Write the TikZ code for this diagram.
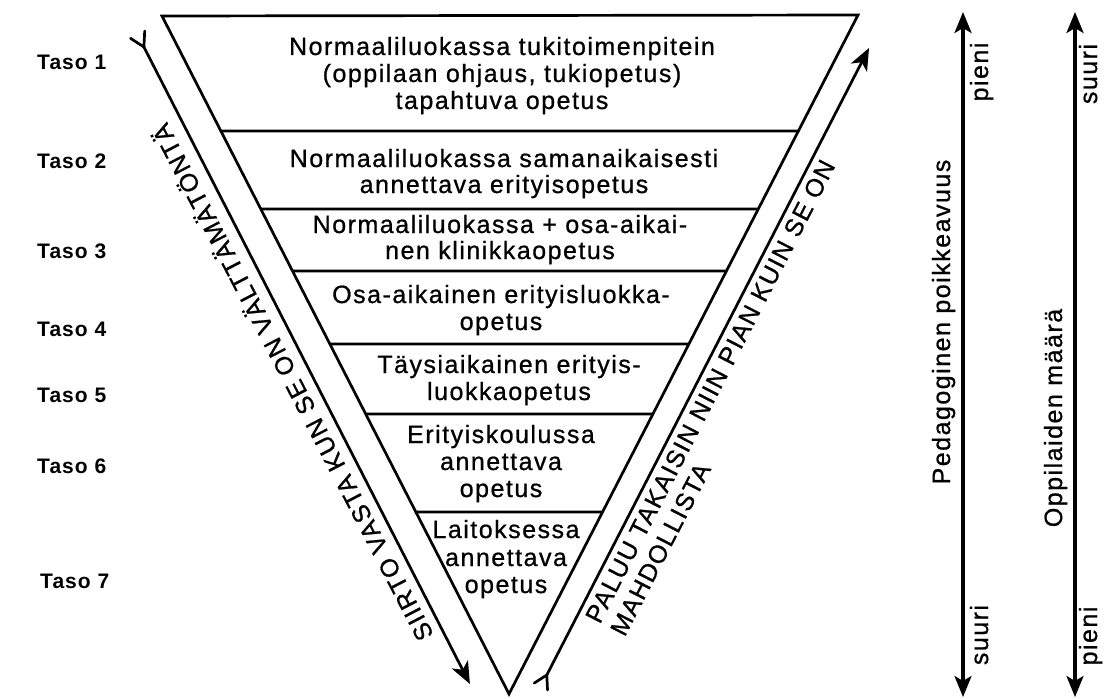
\documentclass[tikz,border=0pt]{standalone}
\usepackage{fontspec}
\newfontfamily\dfont[LetterSpace=6,FakeBold=0.8]{Liberation Sans}
\newfontfamily\bfont[LetterSpace=5]{Liberation Sans Bold}
\usetikzlibrary{arrows.meta,calc}
\begin{document}
\begin{tikzpicture}[x=1pt,y=-1pt]
\tikzset{
  edgeline/.style={line width=2.7pt, line join=miter, line cap=butt},
  lvltext/.style={font=\dfont\fontsize{25}{27}\selectfont, inner sep=0pt, anchor=base},
  tasolbl/.style={font=\bfont\fontsize{21}{24}\selectfont, inner sep=0pt, anchor=base west},
  flowarrow/.style={line width=2.7pt, -{Stealth[length=22pt,width=18pt,inset=6pt]}},
  forkline/.style={line width=2.7pt, line cap=round},
  flowtext/.style={font=\dfont\fontsize{25}{28}\selectfont, inner sep=0pt},
  scalearrow/.style={line width=3.2pt, {Stealth[length=21pt,width=17pt,inset=5pt]}-{Stealth[length=21pt,width=17pt,inset=5pt]}},
  sidelbl/.style={font=\dfont\fontsize{25}{27}\selectfont, inner sep=0pt, anchor=base, rotate=90},
}
\fill[white] (0,0) rectangle (1107,698);
\useasboundingbox (0,0) rectangle (1107,698);

% triangle
\coordinate (T1) at (162,16);
\coordinate (T2) at (858,15);
\coordinate (T3) at (509,694);
\draw[edgeline] (T1) -- (T2) -- (T3) -- cycle;
\foreach \n/\tl/\tr in {1/0.1696/0.1708, 2/0.2847/0.2857, 3/0.3761/0.3770, 4/0.4838/0.4845, 5/0.5870/0.5876, 6/0.7316/0.7320} {
  \coordinate (L\n) at ($(T1)!\tl!(T3)$);
  \coordinate (R\n) at ($(T2)!\tr!(T3)$);
  \draw[edgeline] (L\n) -- (R\n);
}

% level texts
\node[lvltext] (l1a) at (502,55) {Normaaliluokassa tukitoimenpitein};
\node[lvltext] (l1b) at (502,82) {(oppilaan ohjaus, tukiopetus)};
\node[lvltext] (l1c) at (502,109) {tapahtuva opetus};
\node[lvltext] (l2a) at (504,167) {Normaaliluokassa samanaikaisesti};
\node[lvltext] (l2b) at (504,193) {annettava erityisopetus};
\node[lvltext] (l3a) at (500,233) {Normaaliluokassa + osa-aikai-};
\node[lvltext] (l3b) at (500,259) {nen klinikkaopetus};
\node[lvltext] (l4a) at (501,303) {Osa-aikainen erityisluokka-};
\node[lvltext] (l4b) at (501,330) {opetus};
\node[lvltext] (l5a) at (509,373) {Täysiaikainen erityis-};
\node[lvltext] (l5b) at (509,400) {luokkaopetus};
\node[lvltext] (l6a) at (501,443) {Erityiskoulussa};
\node[lvltext] (l6b) at (501,470) {annettava};
\node[lvltext] (l6c) at (501,497) {opetus};
\node[lvltext] (l7a) at (506,538) {Laitoksessa};
\node[lvltext] (l7b) at (506,566) {annettava};
\node[lvltext] (l7c) at (506,593) {opetus};

% taso labels
\node[tasolbl] (t1) at (37,70) {Taso 1};
\node[tasolbl] (t2) at (37,168) {Taso 2};
\node[tasolbl] (t3) at (37,258) {Taso 3};
\node[tasolbl] (t4) at (37,336) {Taso 4};
\node[tasolbl] (t5) at (37,402) {Taso 5};
\node[tasolbl] (t6) at (37,473) {Taso 6};
\node[tasolbl] (t7) at (40,588) {Taso 7};

% left flow arrow (downwards)
\coordinate (J1) at (143.9,47);
\coordinate (A1) at (469.9,684);
\coordinate (F1a) at (144.7,31);
\coordinate (F1b) at (130.5,38.3);
\draw[flowarrow] (J1) -- (A1);
\draw[forkline] (F1a) -- (J1) -- (F1b);
\node[flowtext, anchor=base, rotate=117.5] (down) at (300.5,378.4) {SIIRTO VASTA KUN SE ON VÄLTTÄMÄTÖNTÄ};

% right flow arrow (upwards)
\coordinate (J2) at (546.8,675);
\coordinate (A2) at (869,48);
\coordinate (F2a) at (534.2,683.1);
\coordinate (F2b) at (547.5,690);
\draw[flowarrow] (J2) -- (A2);
\draw[forkline] (F2a) -- (J2) -- (F2b);
\node[flowtext, anchor=base west, rotate=62.8] (up1) at (599.8,624.9) {PALUU TAKAISIN NIIN PIAN KUIN SE ON};
\node[flowtext, anchor=base west, rotate=62.8] (up2) at (624.7,637.7) {MAHDOLLISTA};

% scale arrows
\coordinate (P1) at (963,12);
\coordinate (P2) at (963,697);
\coordinate (O1) at (1075,12);
\coordinate (O2) at (1075,697);
\draw[scalearrow] (P1) -- (P2);
\draw[scalearrow] (O1) -- (O2);
\node[sidelbl] (ped) at (950,322) {Pedagoginen poikkeavuus};
\node[sidelbl] (opp) at (1062,418) {Oppilaiden määrä};
\node[sidelbl] (p1top) at (988,72) {pieni};
\node[sidelbl] (p1bot) at (988,635) {suuri};
\node[sidelbl] (o1top) at (1097,74) {suuri};
\node[sidelbl] (o1bot) at (1097,636) {pieni};
\end{tikzpicture}
\end{document}
